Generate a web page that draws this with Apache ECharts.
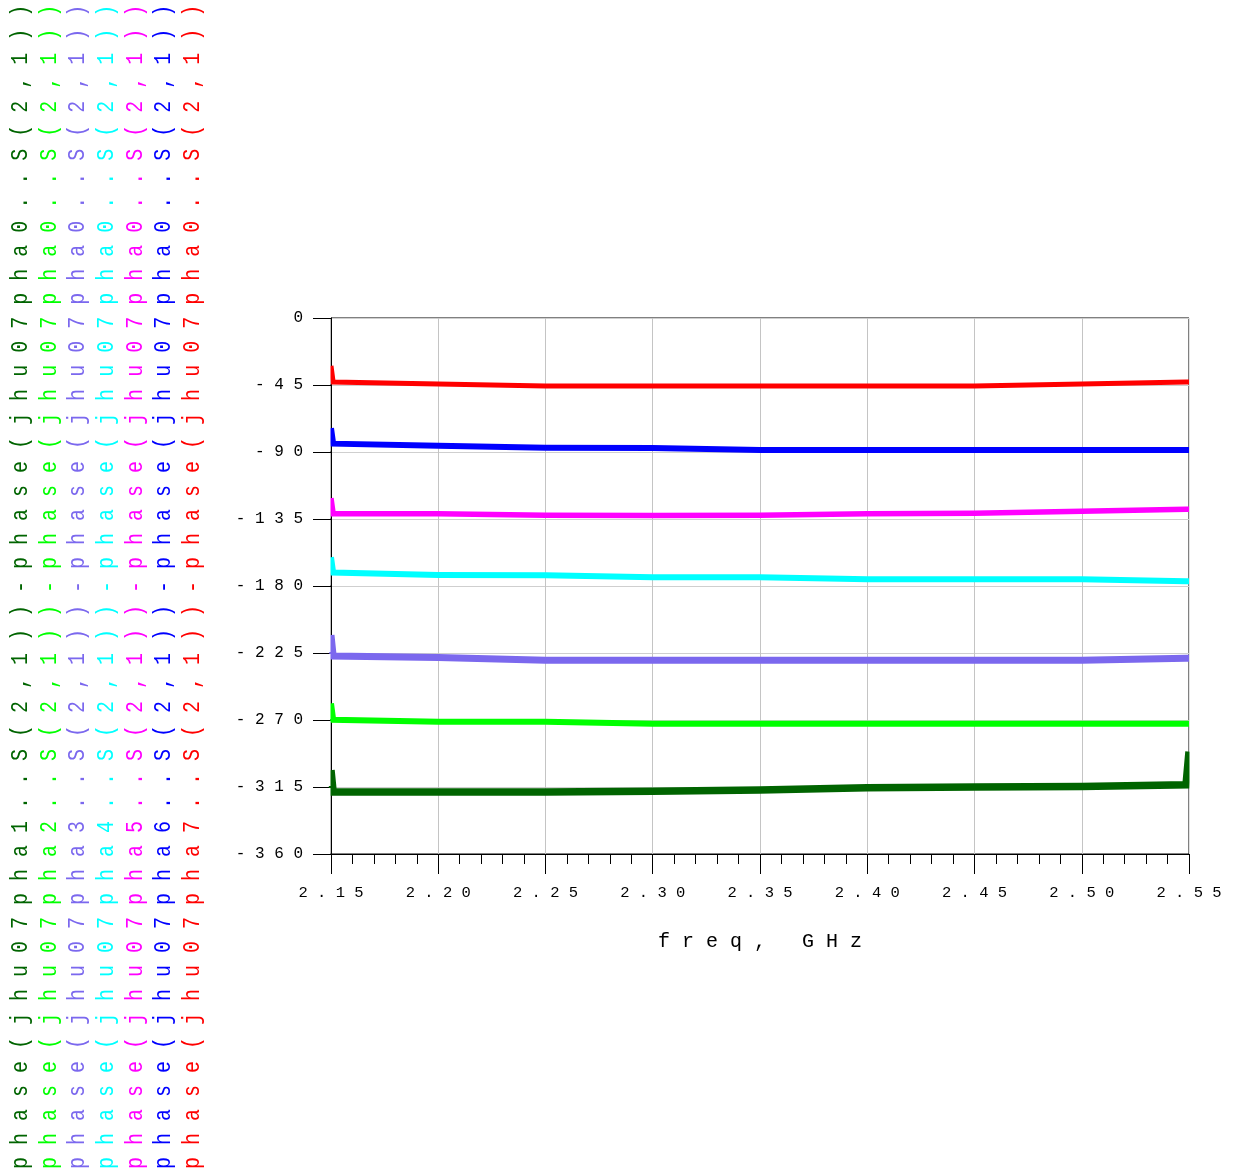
<!DOCTYPE html>
<html>
<head>
<meta charset="utf-8">
<title>Phase difference vs frequency</title>
<script src="https://cdn.jsdelivr.net/npm/echarts@6/dist/echarts.min.js"></script>
<style>
  html, body { margin: 0; padding: 0; background: #fff; }
  #chart { width: 1236px; height: 1174px; }
</style>
</head>
<body>
<div id="chart"></div>
<script>
// Sweep frequencies (GHz)
const freqGHz = [2.15, 2.151, 2.20, 2.25, 2.30, 2.35, 2.40, 2.45, 2.50, 2.5486, 2.55];

// Phase of S(2,1) for each state relative to state 0 (degrees)
const pha1 = [-303.6, -318.3, -318.3, -318.3, -317.9, -317.0, -315.5, -315.0, -314.6, -313.5, -291.3];
const pha2 = [-258.8, -269.8, -271.1, -271.1, -272.5, -272.5, -272.5, -272.5, -272.5, -272.5, -272.5];
const pha3 = [-212.9, -227.0, -228.1, -229.9, -229.9, -229.9, -229.9, -229.9, -229.9, -228.6, -228.6];
const pha4 = [-160.7, -171.0, -172.6, -172.8, -174.2, -174.2, -175.5, -175.5, -175.5, -176.8, -176.8];
const pha5 = [-120.9, -131.4, -131.4, -132.5, -132.7, -132.5, -131.4, -131.2, -129.8, -128.5, -128.5];
const pha6 = [-74.0, -84.4, -85.8, -87.1, -87.3, -88.6, -88.6, -88.6, -88.6, -88.6, -88.6];
const pha7 = [-32.2, -43.0, -44.3, -45.7, -45.7, -45.7, -45.7, -45.7, -44.3, -43.0, -43.0];

const traceNames = [
  'phase(jhu07pha1..S(2,1))-phase(jhu07pha0..S(2,1))',
  'phase(jhu07pha2..S(2,1))-phase(jhu07pha0..S(2,1))',
  'phase(jhu07pha3..S(2,1))-phase(jhu07pha0..S(2,1))',
  'phase(jhu07pha4..S(2,1))-phase(jhu07pha0..S(2,1))',
  'phase(jhu07pha5..S(2,1))-phase(jhu07pha0..S(2,1))',
  'phase(jhu07pha6..S(2,1))-phase(jhu07pha0..S(2,1))',
  'phase(jhu07pha7..S(2,1))-phase(jhu07pha0..S(2,1))'
];
const traceValues = [pha1, pha2, pha3, pha4, pha5, pha6, pha7];
const traceColors = ['#006400', '#00ff00', '#7b68ee', '#00ffff', '#ff00ff', '#0000ff', '#ff0000'];
const traceWidths = [7.5, 6, 7, 6, 5.5, 6, 5];

const xAxisName = 'freq, GHz';

// Wide, typewriter-like spacing used by the plot text
const spaced = s => s.split('').join(' ');
const mono = '"Liberation Mono", "DejaVu Sans Mono", monospace';

const GRID = { left: 331, top: 318, right: 47, bottom: 320 };

const chart = echarts.init(document.getElementById('chart'), null, { renderer: 'canvas' });

const series = traceNames.map((name, i) => ({
  name: name,
  type: 'line',
  data: freqGHz.map((f, k) => [f, traceValues[i][k]]),
  symbol: 'none',
  clip: true,
  lineStyle: { color: traceColors[i], width: traceWidths[i], join: 'miter', miterLimit: 20 },
  itemStyle: { color: traceColors[i] },
  emphasis: { disabled: true },
  z: 3
}));

// Vertical trace labels down the left margin, reading bottom to top
const colX = [21, 50, 78, 107, 136, 164, 193];
const traceLabels = traceNames.map((name, i) => ({
  type: 'text',
  x: colX[i],
  y: 1169,
  rotation: Math.PI / 2,
  scaleY: 1.15,
  silent: true,
  style: {
    text: spaced(name),
    fill: traceColors[i],
    font: '20px ' + mono,
    align: 'left',
    textAlign: 'left',
    verticalAlign: 'middle',
    textVerticalAlign: 'middle'
  }
}));

const baseOption = {
  animation: false,
  backgroundColor: '#ffffff',
  grid: Object.assign({ show: true, borderColor: '#000', borderWidth: 1, backgroundColor: 'transparent' }, GRID),
  xAxis: {
    type: 'value',
    min: 2.15,
    max: 2.55,
    interval: 0.05,
    name: spaced(xAxisName),
    nameLocation: 'middle',
    nameGap: 78,
    nameTextStyle: { color: '#000', fontFamily: mono, fontSize: 20 },
    axisLine: { show: true, onZero: false, lineStyle: { color: '#000', width: 1 } },
    axisTick: { show: true, inside: false, length: 20, lineStyle: { color: '#000', width: 1 } },
    minorTick: { show: true, splitNumber: 5, length: 10, lineStyle: { color: '#000', width: 1 } },
    axisLabel: {
      color: '#000', fontFamily: mono, fontSize: 15.5, margin: 31,
      formatter: v => spaced(v.toFixed(2))
    },
    splitLine: { show: true, lineStyle: { color: '#c4c4c4', width: 1 } }
  },
  yAxis: {
    type: 'value',
    min: -360,
    max: 0,
    interval: 45,
    axisLine: { show: true, onZero: false, lineStyle: { color: '#000', width: 1 } },
    axisTick: { show: true, inside: false, length: 18, lineStyle: { color: '#000', width: 1 } },
    axisLabel: {
      color: '#000', fontFamily: mono, fontSize: 16, margin: 28,
      formatter: v => spaced(String(v))
    },
    splitLine: { show: true, lineStyle: { color: '#cfcfcf', width: 1 } }
  },
  graphic: { elements: traceLabels },
  series: series
};
chart.setOption(baseOption);

// Trim the stroke overhang that pokes past the left and right plot edges,
// leaving the y-axis tick marks untouched.
const W = chart.getWidth(), H = chart.getHeight();
const plotTop = GRID.top, plotBottom = H - GRID.bottom;
const plotRight = W - GRID.right;
const tickRows = [];
for (let v = baseOption.yAxis.min; v <= baseOption.yAxis.max; v += baseOption.yAxis.interval) {
  tickRows.push(chart.convertToPixel({ yAxisIndex: 0 }, v));
}
tickRows.sort((a, b) => a - b);
const masks = [];
for (let k = 0; k + 1 < tickRows.length; k++) {
  const y0 = Math.round(tickRows[k]) + 1, y1 = Math.round(tickRows[k + 1]) - 1;
  masks.push({
    type: 'rect', silent: true, z: 10,
    shape: { x: GRID.left - 10, y: y0, width: 9.5, height: y1 - y0 },
    style: { fill: '#ffffff' }
  });
}
masks.push({
  type: 'rect', silent: true, z: 10,
  shape: { x: plotRight + 0.5, y: plotTop - 6, width: 10, height: plotBottom - plotTop + 6 },
  style: { fill: '#ffffff' }
});
chart.setOption({ graphic: { elements: traceLabels.concat(masks) } });
</script>
</body>
</html>
